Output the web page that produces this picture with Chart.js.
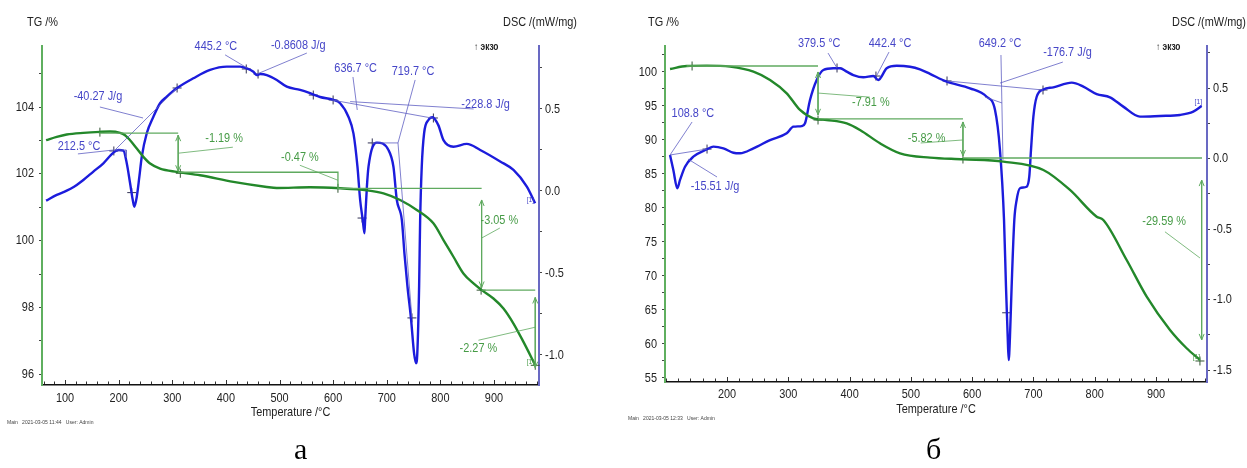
<!DOCTYPE html>
<html><head><meta charset="utf-8">
<script src="https://cdn.jsdelivr.net/npm/chart.js@4.4.1/dist/chart.umd.min.js"></script>
<style>
body{margin:0;background:#fff;width:1247px;height:468px;overflow:hidden;position:relative}
canvas{position:absolute;top:0}
#ca{left:0}
#cb{left:600px}
.cap{position:absolute;font-family:"Liberation Serif","Times New Roman",serif;font-size:30px;line-height:30px;color:#000}
</style></head><body>
<canvas id="ca" width="600" height="468"></canvas>
<canvas id="cb" width="647" height="468"></canvas>
<div class="cap" style="left:294px;top:434px">а</div>
<div class="cap" style="left:926px;top:434px">б</div>
<script>
// ---------- Panel (а) data ----------
const tempA_DSC = [64.6,84.5,103.1,116.8,121.8,134.1,152.8,171.5,190.2,199.5,208.8,215.1,221.3,226.3,229.3,233.8,238.6,243.1,252.4,264.8,277.2,289.7,308.4,339.4,370.5,401.7,426.5,439,451.4,457.6,463.8,476.3,494.9,513.6,538.4,557,575.7,600.6,613,628.5,638,645.4,650.4,655.3,658.4,659.7,663,666,681.5,703.2,712.5,718.8,728.2,733,738.6,745.5,751,754.8,757,760.4,762.3,765.3,769.7,777.8,785.3,796.4,805.8,824.4,849.3,874.3,911.6,936.4,961.3,976.8];
const dscA = [-0.059,-0.024,0.002,0.026,0.037,0.067,0.118,0.169,0.234,0.25,0.246,0.169,0.047,-0.055,-0.096,-0.035,0.087,0.209,0.352,0.453,0.535,0.575,0.626,0.687,0.738,0.758,0.758,0.748,0.727,0.707,0.713,0.707,0.677,0.636,0.616,0.596,0.573,0.555,0.535,0.453,0.35,0.148,-0.055,-0.177,-0.258,-0.177,0.026,0.148,0.295,0.25,0.148,-0.055,-0.177,-0.38,-0.58,-0.787,-0.99,-1.05,-0.99,-0.58,-0.18,0.148,0.352,0.433,0.45,0.40,0.31,0.27,0.287,0.25,0.18,0.128,0.026,-0.075];
const tempA_TG = [64.6,84.5,103.1,134.1,165.3,183.9,202.6,211.9,221.3,233.8,246.1,258.6,277.2,308.4,351.9,414,476.3,494.9,557,613,663,694,725,756,787,805.8,824.4,843,861.8,877.4,899,917.7,936.4,955,976.8];
const tgA = [103.01,103.11,103.18,103.23,103.26,103.27,103.23,103.16,103.01,102.76,102.51,102.31,102.16,102.06,101.96,101.76,101.61,101.58,101.6,101.57,101.51,101.42,101.22,100.92,100.52,100.02,99.52,99.02,98.72,98.52,98.27,97.97,97.52,96.97,96.28];
const stepsA = [[[163,103.22],[311,103.22]],[[311,102.05],[609,102.05],[609,101.57],[877,101.57]],[[877,98.52],[977,98.52]]];
const arrowsA = [[311,103.16,102.08],[877,101.22,98.6],[977,98.3,96.2]];
const leadersA_TG = [[[311,102.62],[413,102.8]],[[538,102.26],[609,101.81]],[[877,100.08],[911,100.38]],[[871,97.02],[977,97.41]]];
const leadersA_DSC = [[[124,0.226],[191,0.25],[214,0.25],[214,0.207]],[[191.4,0.244],[309,0.628]],[[165,0.512],[245.5,0.445]],[[398.5,0.83],[439.6,0.75]],[[551,0.841],[458,0.713]],[[637,0.695],[645,0.494]],[[597.6,0.555],[787,0.443]],[[631.7,0.545],[862,0.5]],[[753,0.677],[721,0.293]],[[672.8,0.293],[721,0.293],[747,-0.774]]];
const marksA_TG = [[165,103.25],[315,102.02],[609,101.57],[876,98.52],[977,96.27]];
const marksA_DSC = [[191,0.244],[224.4,-0.01],[309,0.628],[438,0.744],[460,0.713],[563,0.585],[600,0.555],[654,-0.165],[673,0.293],[787,0.445],[747,-0.774]];
const labelsA = [
  ['212.5 °C',126,0.27,'y1'],['-40.27 J/g',161.3,0.575,'y1'],['445.2 °C',381.4,0.88,'y1'],['-0.8608 J/g',535,0.89,'y1'],
  ['636.7 °C',642,0.748,'y1'],['719.7 °C',749,0.728,'y1'],['-228.8 J/g',884.5,0.53,'y1'],
  ['-1.19 %',396.6,103.07,'y'],['-0.47 %',538,102.5,'y'],['-3.05 %',910,100.62,'y'],['-2.27 %',871,96.78,'y']];
const endTagsA = [[968,-0.055,'y1'],[968,96.37,'y']];
const xTicksA = [100,200,300,400,500,600,700,800,900];
const tgTicksA = [96,98,100,102,104];
const dscTicksA = [-1.0,-0.5,0.0,0.5];

// ---------- Panel (б) data ----------
const tempB_DSC = [107,112.4,118.9,123.3,131.5,145,166.9,177.8,194.1,210.4,221.3,243.1,270.2,297.4,308.3,321.9,327.3,335.4,346.3,357.2,373.5,384.4,395.3,406.1,422.4,438.7,446.9,460.6,476.9,498.6,514.9,531.2,558.5,596.5,623.7,637.3,645.4,652,655.2,658,659.6,661.7,664.4,668.8,672.6,678,688.9,693.2,696,699.9,705.3,716.2,732.5,762.5,781.4,803.2,824.9,846.6,873.8,906.5,939.1,960.8,974.5];
const dscB = [0.025,-0.082,-0.211,-0.152,-0.058,0.013,0.065,0.084,0.072,0.041,0.037,0.072,0.131,0.179,0.226,0.23,0.25,0.415,0.557,0.628,0.64,0.64,0.616,0.592,0.576,0.585,0.557,0.64,0.658,0.651,0.632,0.6,0.545,0.498,0.438,0.344,0.06,-0.436,-0.909,-1.264,-1.429,-1.264,-0.909,-0.436,-0.294,-0.211,-0.2,-0.129,0.06,0.297,0.438,0.49,0.505,0.538,0.51,0.457,0.434,0.368,0.297,0.302,0.309,0.332,0.372];
const tempB_TG = [107,134.2,166.9,204.9,243.1,270.2,297.4,319.1,340.8,362.6,395.3,417,449.6,482.3,531.2,585.6,650.8,716.2,759.6,803.2,814,852.1,884.8,922.8,950,971.7];
const tgB = [100.44,100.88,100.93,100.78,100.05,98.82,96.86,94.41,93.19,92.94,92.45,91.47,89.51,88.04,87.4,87.16,86.81,85.59,82.65,78.72,78.24,72.35,66.96,62.06,59.37,57.65];
const stepsB = [[[134,100.88],[348.5,100.88]],[[348.5,93.09],[585,93.09]],[[585,87.35],[975,87.35]]];
const arrowsB = [[348.5,100.0,93.7],[585,92.65,87.65],[974.5,84.1,60.6]];
const leadersB_TG = [[[348.5,96.9],[433,96.3]],[[516,89.56],[585,90.0]],[[914.6,76.5],[971.7,72.65]]];
const leadersB_DSC = [[[143,0.259],[107,0.025]],[[107,0.025],[167.4,0.067]],[[183.7,-0.131],[136.4,-0.004]],[[364.8,0.748],[379.5,0.642]],[[464.3,0.755],[444.7,0.592]],[[647,0.734],[650.3,-0.01]],[[748,0.684],[645.4,0.535]],[[559,0.55],[715.6,0.486]],[[621,0.436],[648.7,0.394]]];
const marksB_TG = [[143,100.88],[348.5,92.94],[585,87.2],[971.7,57.5]];
const marksB_DSC = [[167.4,0.067],[379.5,0.642],[443,0.585],[559,0.55],[715.6,0.486],[656.3,-1.094]];
const labelsB = [
  ['108.8 °C',144.3,0.32,'y1'],['-15.51 J/g',180.4,-0.195,'y1'],['379.5 °C',350.4,0.817,'y1'],['442.4 °C',466,0.817,'y1'],
  ['649.2 °C',645.4,0.817,'y1'],['-176.7 J/g',755.6,0.75,'y1'],
  ['-7.91 %',434.7,95.49,'y'],['-5.82 %',525.6,90.25,'y'],['-29.59 %',913.3,77.99,'y']];
const endTagsB = [[969,0.403,'y1'],[966,58.13,'y']];
const xTicksB = [200,300,400,500,600,700,800,900];
const tgTicksB = [55,60,65,70,75,80,85,90,95,100];
const dscTicksB = [-1.5,-1.0,-0.5,0.0,0.5];

// ---------- styling ----------
const BLUE = '#1c1cdc', GREEN = '#23882a';
const BLUE_ANN = 'rgb(95,95,195)', GREEN_ANN = 'rgb(95,170,95)';
const BLUE_TXT = 'rgb(70,70,200)', GREEN_TXT = 'rgb(70,155,70)';
const FONT = '"Liberation Sans",Arial,sans-serif';
const NARROW = 0.84;

const pts = (xs, ys) => xs.map((x, i) => ({x, y: ys[i]}));
const poly = a => a.map(p => ({x: p[0], y: p[1]}));
function stepTicks(min, max, step){
  const out = [];
  for (let v = Math.ceil(min/step - 1e-9)*step; v <= max + 1e-9; v += step) out.push(Math.round(v*1000)/1000);
  return out;
}
const near = (arr, v) => arr.some(m => Math.abs(m - v) < 1e-6);

// narrow text (Arial Narrow look)
function nText(ctx, s, x, y, align){
  ctx.save();
  ctx.translate(x, y);
  ctx.scale(NARROW, 1);
  ctx.textAlign = align;
  ctx.fillText(s, 0, 0);
  ctx.restore();
}

function textPlugin(P){
  return {
    id: 'txt' + P.id,
    afterDatasetsDraw(chart){
      const {ctx, chartArea: a, scales} = chart;
      const sx = scales.x, sy = scales.y, sy1 = scales.y1;
      ctx.save();
      // inner x ticks
      ctx.strokeStyle = '#333'; ctx.lineWidth = 1;
      sx.ticks.forEach(t => {
        const px = Math.round(sx.getPixelForValue(t.value)) + 0.5;
        const len = near(P.xMajor, t.value) ? 4 : 2.5;
        ctx.beginPath(); ctx.moveTo(px, a.bottom - 1); ctx.lineTo(px, a.bottom - 1 - len); ctx.stroke();
      });
      // tick labels
      ctx.fillStyle = '#222'; ctx.font = '13px ' + FONT; ctx.textBaseline = 'middle';
      sx.ticks.forEach(t => { if (near(P.xMajor, t.value)) nText(ctx, String(t.value), sx.getPixelForValue(t.value), a.bottom + P.xLabelDy, 'center'); });
      sy.ticks.forEach(t => { if (near(P.tgMajor, t.value)) nText(ctx, String(t.value), a.left - 8, sy.getPixelForValue(t.value), 'right'); });
      sy1.ticks.forEach(t => { if (near(P.dscMajor, t.value)) nText(ctx, t.value.toFixed(1), a.right + 6, sy1.getPixelForValue(t.value), 'left'); });
      // arrow heads
      ctx.strokeStyle = GREEN_ANN; ctx.lineWidth = 1;
      P.arrows.forEach(r => {
        const px = sx.getPixelForValue(r[0]);
        const top = sy.getPixelForValue(r[1]);
        const bot = sy.getPixelForValue(r[2]);
        ctx.beginPath();
        ctx.moveTo(px - 2.5, top + 6); ctx.lineTo(px, top); ctx.lineTo(px + 2.5, top + 6);
        ctx.moveTo(px - 2.5, bot - 6); ctx.lineTo(px, bot); ctx.lineTo(px + 2.5, bot - 6);
        ctx.stroke();
      });
      // annotation labels
      ctx.font = '13px ' + FONT;
      P.labels.forEach(L => {
        ctx.fillStyle = L[3] === 'y1' ? BLUE_TXT : GREEN_TXT;
        nText(ctx, L[0], sx.getPixelForValue(L[1]), scales[L[3]].getPixelForValue(L[2]), 'center');
      });
      ctx.font = '8px ' + FONT;
      P.endTags.forEach(L => {
        ctx.fillStyle = L[2] === 'y1' ? BLUE_TXT : GREEN_TXT;
        nText(ctx, '[1]', sx.getPixelForValue(L[0]), scales[L[2]].getPixelForValue(L[1]), 'center');
      });
      // titles
      ctx.fillStyle = '#222';
      ctx.font = '13px ' + FONT;
      nText(ctx, 'TG /%', a.left - P.tgTitleDx, 22, 'left');
      nText(ctx, 'DSC /(mW/mg)', P.dscTitleX, 22, 'right');
      nText(ctx, 'Temperature /°C', (a.left + a.right) / 2, P.tempTitleY, 'center');
      ctx.font = 'bold 10px ' + FONT;
      nText(ctx, '↑ экзо', P.exoX, 47, 'left');
      ctx.font = '6px ' + FONT; ctx.fillStyle = '#444';
      nText(ctx, P.footer, P.footerX, P.footerY, 'left');
      ctx.restore();
    }
  };
}

function buildChart(canvasId, P){
  const cv = document.getElementById(canvasId);
  const H = cv.height, W = cv.width;
  const ln = (data, axis, color, w) => ({data, yAxisID: axis, borderColor: color, borderWidth: w, pointRadius: 0, pointHoverRadius: 0, tension: 0, fill: false, clip: false});
  const ds = [];
  P.steps.forEach(l => ds.push(ln(poly(l), 'y', GREEN_ANN, 1.3)));
  P.arrows.forEach(r => ds.push(ln([{x: r[0], y: r[1]}, {x: r[0], y: r[2]}], 'y', GREEN_ANN, 1)));
  P.leadTG.forEach(l => ds.push(ln(poly(l), 'y', GREEN_ANN, 0.8)));
  P.leadDSC.forEach(l => ds.push(ln(poly(l), 'y1', BLUE_ANN, 0.8)));
  ds.push(Object.assign(ln(pts(P.tgT, P.tg), 'y', GREEN, 2.4), {cubicInterpolationMode: 'monotone'}));
  ds.push(Object.assign(ln(pts(P.dscT, P.dsc), 'y1', BLUE, 2.4), {cubicInterpolationMode: 'monotone'}));
  ds.push({data: poly(P.mTG), yAxisID: 'y', showLine: false, pointStyle: 'cross', pointRadius: 4.5, pointBorderColor: '#335533', pointBorderWidth: 1, clip: false});
  ds.push({data: poly(P.mDSC), yAxisID: 'y1', showLine: false, pointStyle: 'cross', pointRadius: 4.5, pointBorderColor: '#333355', pointBorderWidth: 1, clip: false});

  const xAll = stepTicks(P.xMin, P.xMax, 20);
  const tgAll = stepTicks(P.tgMin, P.tgMax, P.tgMinor);
  const dscAll = stepTicks(P.dscMin, P.dscMax, 0.25);

  return new Chart(cv, {
    type: 'line',
    data: {datasets: ds},
    options: {
      responsive: false, animation: false, events: [],
      layout: {padding: {top: P.area.top, left: 0, right: 0, bottom: 0}},
      plugins: {legend: {display: false}, tooltip: {enabled: false}},
      scales: {
        x: {
          type: 'linear', position: 'bottom', min: P.xMin, max: P.xMax,
          afterBuildTicks: s => { s.ticks = xAll.map(v => ({value: v})); },
          afterFit: s => { s.height = H - P.area.bottom; },
          grid: {drawOnChartArea: false, drawTicks: false},
          border: {display: true, color: '#111', width: 1.5},
          ticks: {display: false, autoSkip: false}
        },
        y: {
          type: 'linear', position: 'left', min: P.tgMin, max: P.tgMax,
          afterBuildTicks: s => { s.ticks = tgAll.map(v => ({value: v})); },
          afterFit: s => { s.width = P.area.left; },
          grid: {drawOnChartArea: false, drawTicks: true, tickLength: 3, tickColor: '#444'},
          border: {display: true, color: 'rgb(95,175,95)', width: 2},
          ticks: {display: false, autoSkip: false}
        },
        y1: {
          type: 'linear', position: 'right', min: P.dscMin, max: P.dscMax,
          afterBuildTicks: s => { s.ticks = dscAll.map(v => ({value: v})); },
          afterFit: s => { s.width = W - P.area.right; },
          grid: {drawOnChartArea: false, drawTicks: true, tickLength: 3, tickColor: '#444'},
          border: {display: true, color: 'rgb(105,105,195)', width: 2},
          ticks: {display: false, autoSkip: false}
        }
      }
    },
    plugins: [textPlugin(P)]
  });
}

buildChart('ca', {
  id: 'A', area: {top: 46, bottom: 385, left: 42, right: 539},
  xMin: 57, xMax: 984, tgMin: 95.68, tgMax: 105.83, dscMin: -1.183, dscMax: 0.884, tgMinor: 1,
  xMajor: xTicksA, tgMajor: tgTicksA, dscMajor: dscTicksA, xLabelDy: 13,
  dscT: tempA_DSC, dsc: dscA, tgT: tempA_TG, tg: tgA,
  steps: stepsA, arrows: arrowsA, leadTG: leadersA_TG, leadDSC: leadersA_DSC,
  mTG: marksA_TG, mDSC: marksA_DSC, labels: labelsA, endTags: endTagsA,
  tgTitleDx: 15, dscTitleX: 577, tempTitleY: 412, exoX: 474,
  footer: 'Main   2021-03-05 11:44   User: Admin', footerX: 7, footerY: 422
});
buildChart('cb', {
  id: 'B', area: {top: 46, bottom: 382, left: 65, right: 607},
  xMin: 98.8, xMax: 983.2, tgMin: 54.41, tgMax: 103.82, dscMin: -1.585, dscMax: 0.798, tgMinor: 2.5,
  xMajor: xTicksB, tgMajor: tgTicksB, dscMajor: dscTicksB, xLabelDy: 12,
  dscT: tempB_DSC, dsc: dscB, tgT: tempB_TG, tg: tgB,
  steps: stepsB, arrows: arrowsB, leadTG: leadersB_TG, leadDSC: leadersB_DSC,
  mTG: marksB_TG, mDSC: marksB_DSC, labels: labelsB, endTags: endTagsB,
  tgTitleDx: 17, dscTitleX: 646, tempTitleY: 409, exoX: 556,
  footer: 'Main   2021-03-05 12:33   User: Admin', footerX: 28, footerY: 418
});
</script>
</body></html>
